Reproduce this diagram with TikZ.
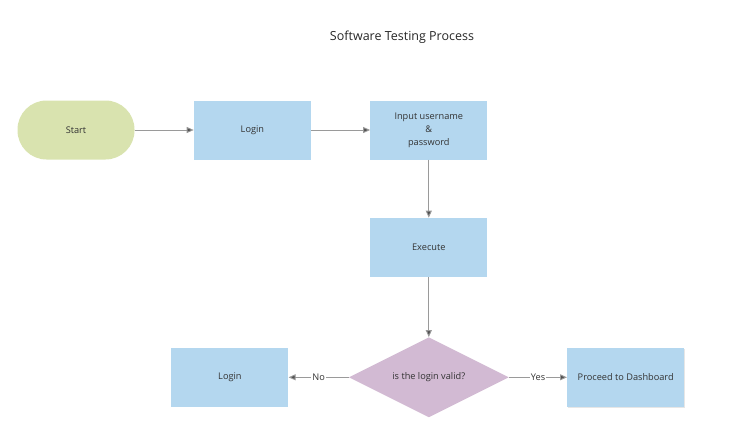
\documentclass[tikz,border=0pt]{standalone}
\usepackage{fontspec}
\setmainfont{Open Sans}
\usetikzlibrary{positioning,shapes.geometric,arrows.meta,shadows}

\definecolor{procblue}{HTML}{B4D7EF}
\definecolor{startgreen}{HTML}{D9E3AF}
\definecolor{decpurple}{HTML}{D2BAD3}
\definecolor{linegray}{HTML}{9A9A9A}
\definecolor{tipgray}{HTML}{505050}

\tikzset{
	process/.style={rectangle, fill=procblue, minimum width=117pt, minimum height=59pt, align=center, font=\fontsize{9.2}{13}\selectfont, text=black!80},
	startstop/.style={process, fill=startgreen, rounded corners=29pt},
	decision/.style={diamond, fill=decpurple, minimum width=160pt, minimum height=80pt, aspect=2, inner sep=0pt, font=\fontsize{9.2}{11}\selectfont, text=black!80},
	flow/.style={draw=linegray, line width=0.9pt, -{Triangle[length=7pt,width=6pt,fill=tipgray]}},
	answer/.style={fill=white, inner sep=1pt, font=\fontsize{9.2}{11}\selectfont, text=black!80},
}

\begin{document}
\begin{tikzpicture}[x=1pt, y=-1pt]
	\useasboundingbox (0,0) rectangle (751,439);
	
	\node[font=\fontsize{12.5}{14}\selectfont, text=black!85] (title) at (402,37) {Software Testing Process};
	
	\node[startstop] (start) at (76,130) {Start};
	\node[process, right=59pt of start] (login) {Login};
	\node[process, right=59pt of login] (input) {Input username\\\&\\password};
	\node[process, below=58pt of input] (exec) {Execute};
	\node[decision, below=60pt of exec] (valid) {is the login valid?};
	\node[process, left=60pt of valid] (relogin) {Login};
	\node[process, right=58pt of valid, drop shadow={opacity=0.2, shadow xshift=1pt, shadow yshift=-1pt}] (dash) {Proceed to Dashboard};
	
	\draw[flow] (start) -- (login);
	\draw[flow] (login) -- (input);
	\draw[flow] (input) -- (exec);
	\draw[flow] (exec) -- (valid);
	\draw[flow] (valid) -- node[answer] {No} (relogin);
	\draw[flow] (valid) -- node[answer] {Yes} (dash);
\end{tikzpicture}
\end{document}
